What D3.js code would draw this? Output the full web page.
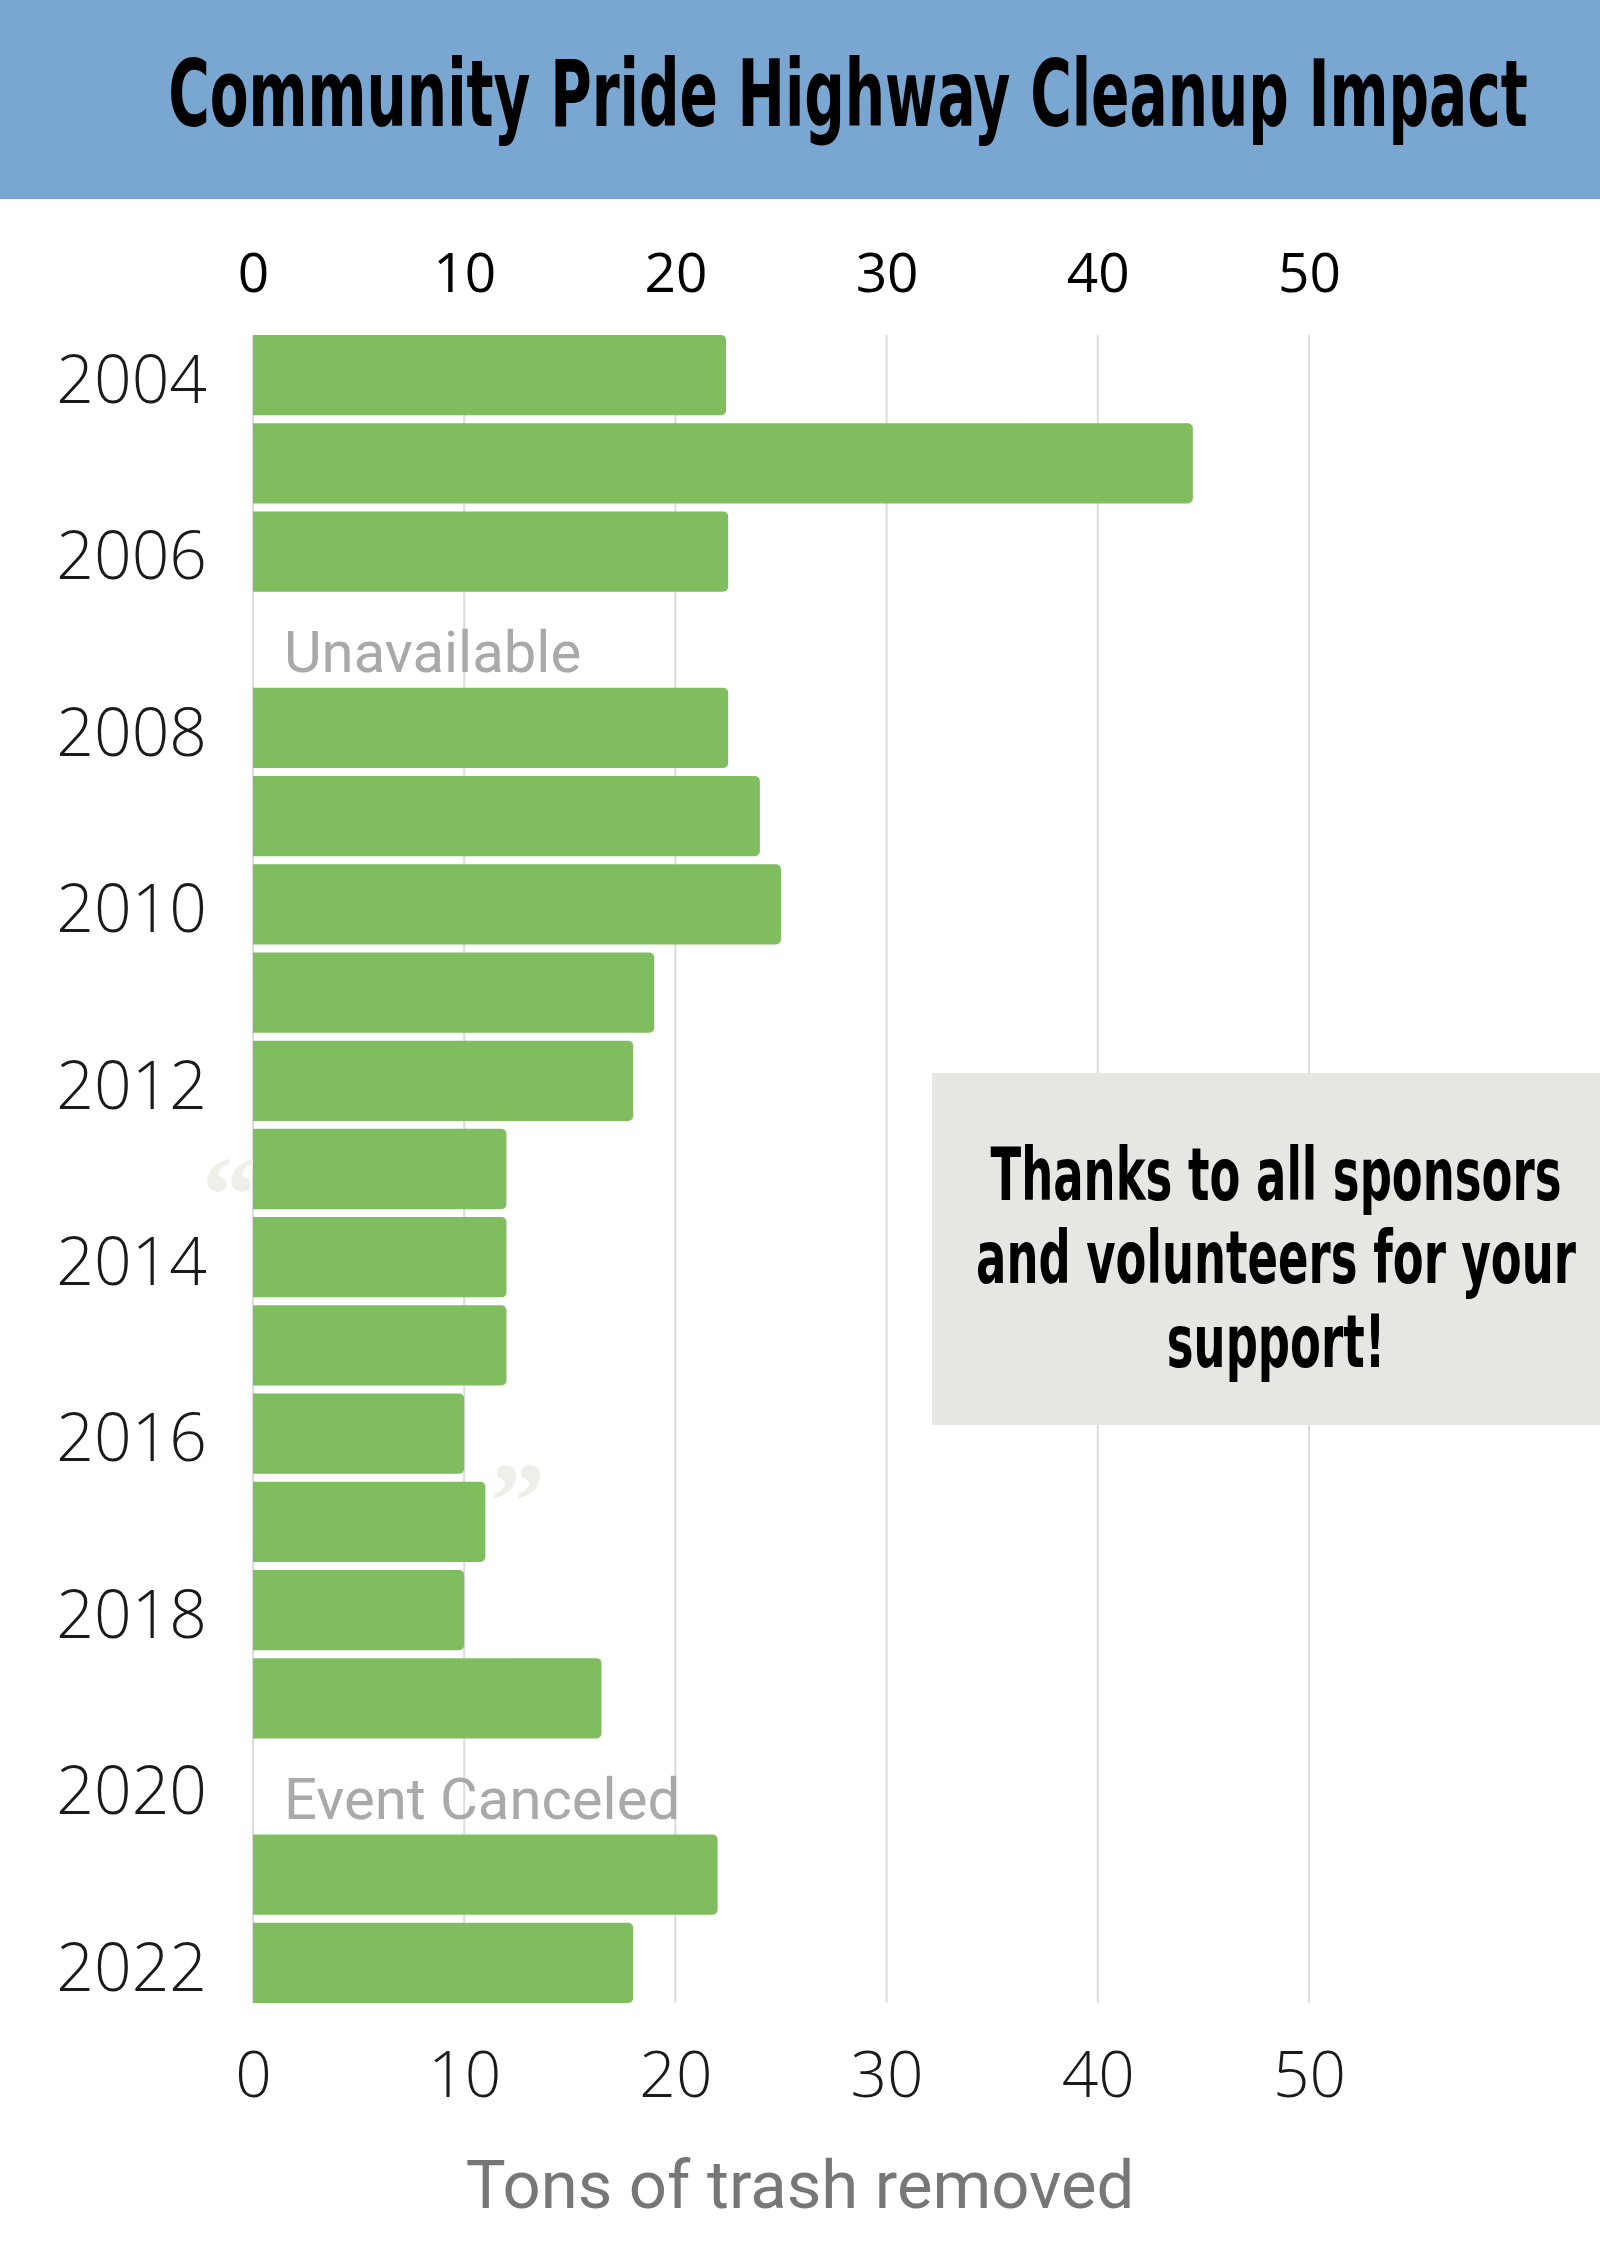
<!DOCTYPE html>
<html>
<head>
<meta charset="utf-8">
<script src="https://cdn.jsdelivr.net/npm/d3@7"></script>
<style>
  body { margin: 0; background: #fff; }
  svg { display: block; }
</style>
</head>
<body>
<svg width="1600" height="2263"></svg>
<script>
// chart data
const years = ["2004", "2005", "2006", "2007", "2008", "2009", "2010", "2011", "2012", "2013",
               "2014", "2015", "2016", "2017", "2018", "2019", "2020", "2021", "2022"];
const tons = [22.4, 44.5, 22.5, null, 22.5, 24, 25, 19, 18, 12,
              12, 12, 10, 11, 10, 16.5, null, 22, 18];
const notes = { "2007": "Unavailable", "2020": "Event Canceled" };
const yearLabels = ["2004", "2006", "2008", "2010", "2012", "2014", "2016", "2018", "2020", "2022"];
const xTicks = [0, 10, 20, 30, 40, 50];
const titleText = "Community Pride Highway Cleanup Impact";
const axisTitle = "Tons of trash removed";
const thanksLines = ["Thanks to all sponsors", "and volunteers for your", "support!"];

const condensed = "'Liberation Sans Narrow', 'DejaVu Sans Condensed', 'Arial Narrow', sans-serif";

const svg = d3.select("svg");

const x = d3.scaleLinear()
    .domain([0, 50])
    .range([253, 1309]);

const y = d3.scaleBand()
    .domain(years)
    .range([331, 2007])
    .paddingInner(0.09)
    .paddingOuter(0.045);

// squeeze a text horizontally (around its centre) to a given width
function squeeze(sel, cx, width) {
    const w = sel.node().getComputedTextLength();
    sel.attr("transform", "translate(" + cx + ",0) scale(" + (width / w) + ",1)");
}

// header band
svg.append("rect")
    .attr("x", 0).attr("y", 0)
    .attr("width", 1600).attr("height", 199)
    .attr("fill", "#7aa7d1");

const title = svg.append("text")
    .attr("x", 0)
    .attr("y", 126)
    .attr("text-anchor", "middle")
    .attr("font-family", condensed)
    .attr("font-weight", "bold")
    .attr("font-size", 93)
    .attr("fill", "#000")
    .text(titleText);
squeeze(title, 848, 1360);

// grid lines
const gridTop = y(years[0]);
const gridBottom = y(years[years.length - 1]) + y.bandwidth();
svg.append("g")
    .selectAll("line")
    .data(xTicks)
    .enter()
    .append("line")
    .attr("x1", d => x(d)).attr("x2", d => x(d))
    .attr("y1", gridTop).attr("y2", gridBottom)
    .attr("stroke", "#dcdcdc")
    .attr("stroke-width", 2);

// faint decorative quote marks (sit behind the bars)
const quoteFont = "'Liberation Serif', 'DejaVu Serif', serif";
svg.append("text")
    .attr("x", 202).attr("y", 1232)
    .attr("font-family", quoteFont).attr("font-weight", "bold")
    .attr("font-size", 110)
    .attr("fill", "#efefea")
    .text("\u201C");
svg.append("text")
    .attr("x", 490).attr("y", 1538)
    .attr("font-family", quoteFont).attr("font-weight", "bold")
    .attr("font-size", 110)
    .attr("fill", "#efefea")
    .text("\u201D");

// bars, square at the baseline and slightly rounded at the end
svg.append("clipPath")
    .attr("id", "plotClip")
    .append("rect")
    .attr("x", x(0)).attr("y", 0)
    .attr("width", 1600 - x(0)).attr("height", 2263);

const data = years.map((yr, i) => ({ year: yr, value: tons[i] }));

svg.append("g")
    .attr("clip-path", "url(#plotClip)")
    .selectAll("rect")
    .data(data.filter(d => d.value != null))
    .enter()
    .append("rect")
    .attr("x", x(0) - 8)
    .attr("y", d => y(d.year))
    .attr("width", d => x(d.value) - x(0) + 8)
    .attr("height", y.bandwidth())
    .attr("rx", 5)
    .attr("fill", "#80bd5f");

// notes for missing years
svg.append("g")
    .selectAll("text")
    .data(data.filter(d => d.value == null))
    .enter()
    .append("text")
    .attr("x", x(0) + 31)
    .attr("y", d => y(d.year) + y.bandwidth() - 8)
    .attr("font-family", "Roboto, sans-serif")
    .attr("font-size", 58)
    .attr("fill", "#a9a9a9")
    .text(d => notes[d.year]);

// year labels on the left
const yAxis = svg.append("g")
    .attr("transform", "translate(" + x(0) + ",0)")
    .call(d3.axisLeft(y).tickValues(yearLabels).tickSize(0).tickPadding(46));
yAxis.select(".domain").remove();
yAxis.selectAll("text")
    .attr("dy", "0.42em")
    .attr("font-family", "'Open Sans', sans-serif")
    .attr("font-weight", 300)
    .attr("font-size", 66)
    .attr("fill", "#1a1a1a");

// top axis
const topAxis = svg.append("g")
    .attr("transform", "translate(0,292)")
    .call(d3.axisTop(x).tickValues(xTicks).tickSize(0).tickPadding(0));
topAxis.select(".domain").remove();
topAxis.selectAll("text")
    .attr("y", 0).attr("dy", 0)
    .attr("font-family", "'Open Sans', sans-serif")
    .attr("font-size", 55)
    .attr("fill", "#000");

// bottom axis
const bottomAxis = svg.append("g")
    .attr("transform", "translate(0,2097)")
    .call(d3.axisBottom(x).tickValues(xTicks).tickSize(0).tickPadding(0));
bottomAxis.select(".domain").remove();
bottomAxis.selectAll("text")
    .attr("y", 0).attr("dy", 0)
    .attr("font-family", "'Open Sans', sans-serif")
    .attr("font-weight", 300)
    .attr("font-size", 64)
    .attr("fill", "#1a1a1a");

svg.append("text")
    .attr("x", 800)
    .attr("y", 2208)
    .attr("text-anchor", "middle")
    .attr("font-family", "Roboto, sans-serif")
    .attr("font-size", 67)
    .attr("fill", "#777")
    .text(axisTitle);

// thank-you box
svg.append("rect")
    .attr("x", 932).attr("y", 1073)
    .attr("width", 668).attr("height", 352)
    .attr("fill", "#e6e6e3");

const thanks = svg.append("g")
    .selectAll("text")
    .data(thanksLines)
    .enter()
    .append("text")
    .attr("x", 0)
    .attr("y", (d, i) => 1200 + i * 83.5)
    .attr("text-anchor", "middle")
    .attr("font-family", condensed)
    .attr("font-weight", "bold")
    .attr("font-size", 73)
    .attr("fill", "#000")
    .text(d => d);

// same squeeze for every line, so the widest one matches the original
const widest = d3.max(thanks.nodes(), n => n.getComputedTextLength());
thanks.attr("transform", "translate(1276,0) scale(" + (600 / widest) + ",1)");
</script>
</body>
</html>
